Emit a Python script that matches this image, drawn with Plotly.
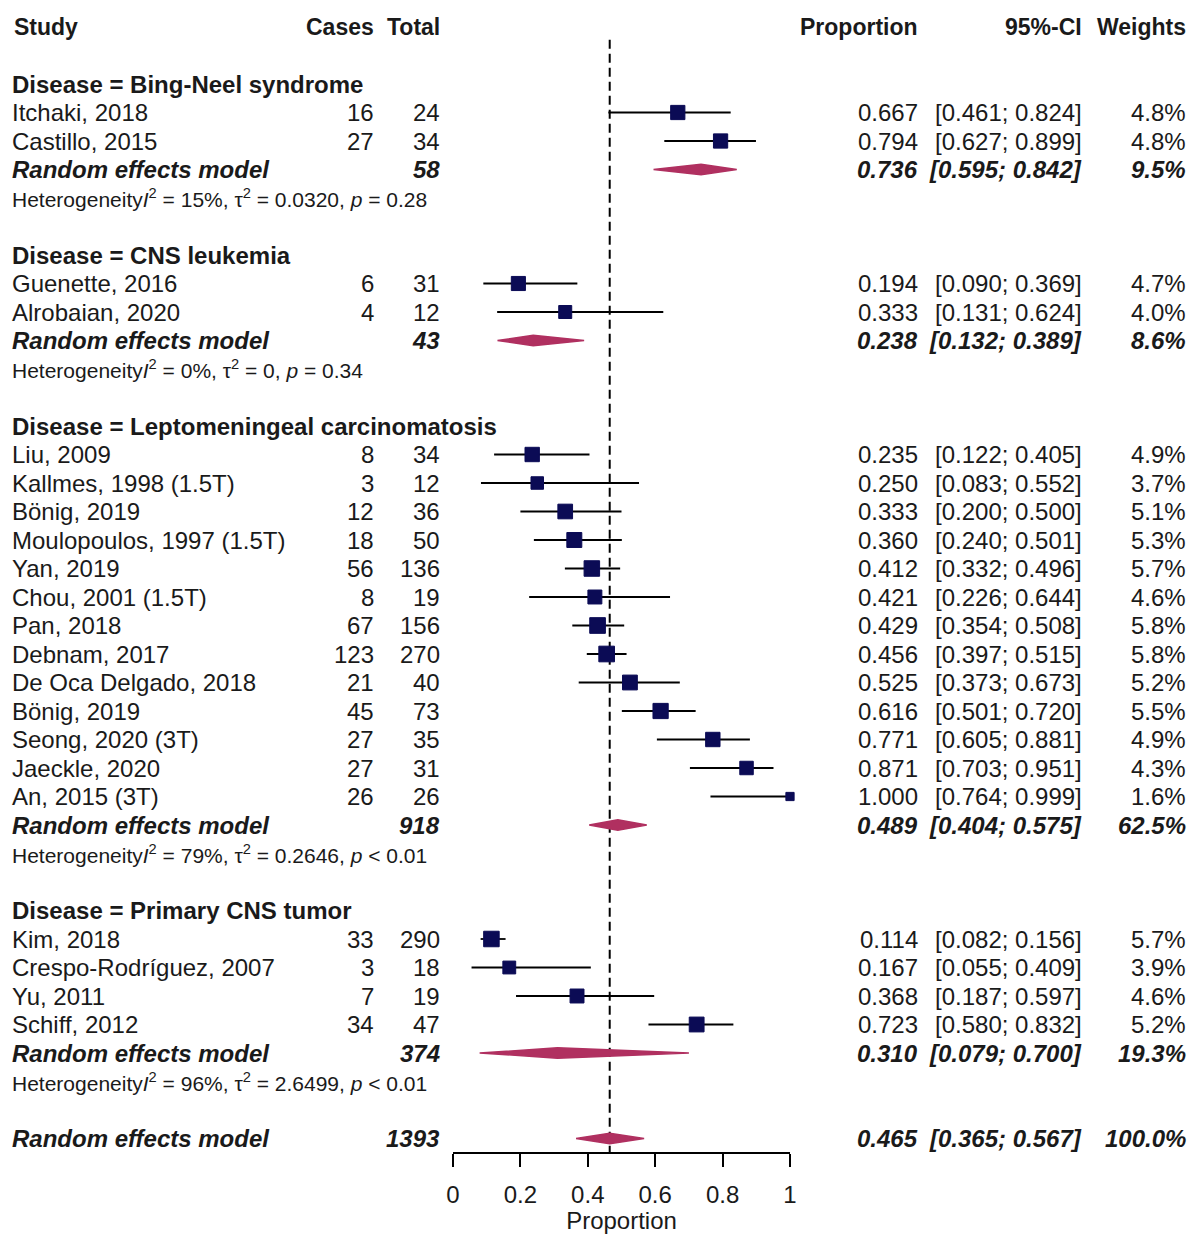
import plotly.graph_objects as go

# ---------------- data ----------------
disease = ["Bing-Neel syndrome", "CNS leukemia", "Leptomeningeal carcinomatosis", "Primary CNS tumor"]

studies = [
    ["Itchaki, 2018", "Castillo, 2015"],
    ["Guenette, 2016", "Alrobaian, 2020"],
    ["Liu, 2009", "Kallmes, 1998 (1.5T)", "Bönig, 2019", "Moulopoulos, 1997 (1.5T)", "Yan, 2019",
     "Chou, 2001 (1.5T)", "Pan, 2018", "Debnam, 2017", "De Oca Delgado, 2018", "Bönig, 2019",
     "Seong, 2020 (3T)", "Jaeckle, 2020", "An, 2015 (3T)"],
    ["Kim, 2018", "Crespo-Rodríguez, 2007", "Yu, 2011", "Schiff, 2012"],
]
cases = [[16, 27], [6, 4], [8, 3, 12, 18, 56, 8, 67, 123, 21, 45, 27, 27, 26], [33, 3, 7, 34]]
totals = [[24, 34], [31, 12], [34, 12, 36, 50, 136, 19, 156, 270, 40, 73, 35, 31, 26], [290, 18, 19, 47]]
prop = [[0.667, 0.794], [0.194, 0.333],
        [0.235, 0.250, 0.333, 0.360, 0.412, 0.421, 0.429, 0.456, 0.525, 0.616, 0.771, 0.871, 1.000],
        [0.114, 0.167, 0.368, 0.723]]
lower = [[0.461, 0.627], [0.090, 0.131],
         [0.122, 0.083, 0.200, 0.240, 0.332, 0.226, 0.354, 0.397, 0.373, 0.501, 0.605, 0.703, 0.764],
         [0.082, 0.055, 0.187, 0.580]]
upper = [[0.824, 0.899], [0.369, 0.624],
         [0.405, 0.552, 0.500, 0.501, 0.496, 0.644, 0.508, 0.515, 0.673, 0.720, 0.881, 0.951, 0.999],
         [0.156, 0.409, 0.597, 0.832]]
weights = [[4.8, 4.8], [4.7, 4.0],
           [4.9, 3.7, 5.1, 5.3, 5.7, 4.6, 5.8, 5.8, 5.2, 5.5, 4.9, 4.3, 1.6],
           [5.7, 3.9, 4.6, 5.2]]

sub_total = [58, 43, 918, 374]
sub_prop = [0.736, 0.238, 0.489, 0.310]
sub_lower = [0.595, 0.132, 0.404, 0.079]
sub_upper = [0.842, 0.389, 0.575, 0.700]
sub_weight = [9.5, 8.6, 62.5, 19.3]
sub_i2 = ["15%", "0%", "79%", "96%"]
sub_tau2 = ["0.0320", "0", "0.2646", "2.6499"]
sub_p = ["= 0.28", "= 0.34", "< 0.01", "< 0.01"]

overall_total = 1393
overall_prop = 0.465
overall_lower = 0.365
overall_upper = 0.567
overall_weight = 100.0
overall_i2, overall_tau2, overall_p = "90%", "0.7412", "< 0.01"

tick_vals = [0, 0.2, 0.4, 0.6, 0.8, 1]
tick_text = ["0", "0.2", "0.4", "0.6", "0.8", "1"]

# ---------------- layout constants ----------------
W, H = 1188, 1234
FONT = "Liberation Sans, Arial, sans-serif"
TXT = "#1a1a1a"
SQ_COL = "#0b0b55"
DIA_COL = "#b03060"
ROW0_PX, ROW_PX = 27.0, 28.5
AXIS_PX = 1152.0
PLOT_L, PLOT_R = 453.0, 790.0
COL_STUDY, COL_CASES, COL_TOTAL, COL_PROP, COL_CI, COL_W = 12, 374, 440, 918, 1082, 1186
FS, FS_HEAD, FS_HET = 24, 23, 21

y_bottom = (AXIS_PX - ROW0_PX) / ROW_PX
y_top = (0 - ROW0_PX) / ROW_PX

ann = []


def txt(px, row, s, anchor="left", size=FS):
    ann.append(dict(x=px / W, xref="paper", y=row, yref="y", text=s, showarrow=False,
                    xanchor=anchor, yanchor="middle", borderpad=0, borderwidth=0,
                    font=dict(family=FONT, size=size, color=TXT)))


def het(i2, tau2, p):
    return ("Heterogeneity<i>I</i><sup>2</sup> = %s, τ<sup>2</sup> = %s, <i>p</i> %s" % (i2, tau2, p))


# header
txt(COL_STUDY + 2, 0, "<b>Study</b>", size=FS_HEAD)
txt(COL_CASES, 0, "<b>Cases</b>", "right", size=FS_HEAD)
txt(COL_TOTAL, 0, "<b>Total</b>", "right", size=FS_HEAD)
txt(COL_PROP, 0, "<b>Proportion</b>", "right", size=FS_HEAD)
txt(COL_CI, 0, "<b>95%-CI</b>", "right", size=FS_HEAD)
txt(COL_W, 0, "<b>Weights</b>", "right", size=FS_HEAD)

ci_x, ci_y = [], []
sq_x, sq_y, sq_s = [], [], []
diamonds = []

row = 2
for g in range(len(disease)):
    txt(COL_STUDY, row, "<b>Disease = %s</b>" % disease[g])
    row += 1
    for k in range(len(studies[g])):
        txt(COL_STUDY, row, studies[g][k])
        txt(COL_CASES, row, str(cases[g][k]), "right")
        txt(COL_TOTAL, row, str(totals[g][k]), "right")
        txt(COL_PROP, row, "%.3f" % prop[g][k], "right")
        txt(COL_CI, row, "[%.3f; %.3f]" % (lower[g][k], upper[g][k]), "right")
        txt(COL_W, row, "%.1f%%" % weights[g][k], "right")
        ci_x += [lower[g][k], upper[g][k], None]
        ci_y += [row, row, None]
        sq_x.append(prop[g][k])
        sq_y.append(row)
        sq_s.append(6.5 * weights[g][k] ** 0.5)
        row += 1
    txt(COL_STUDY, row, "<b><i>Random effects model</i></b>")
    txt(COL_TOTAL, row, "<b><i>%d</i></b>" % sub_total[g], "right")
    txt(COL_PROP, row, "<b><i>%.3f</i></b>" % sub_prop[g], "right")
    txt(COL_CI, row, "<b><i>[%.3f; %.3f]</i></b>" % (sub_lower[g], sub_upper[g]), "right")
    txt(COL_W, row, "<b><i>%.1f%%</i></b>" % sub_weight[g], "right")
    diamonds.append((sub_lower[g], sub_prop[g], sub_upper[g], row))
    row += 1
    txt(COL_STUDY, row, het(sub_i2[g], sub_tau2[g], sub_p[g]), size=FS_HET)
    row += 2

txt(COL_STUDY, row, "<b><i>Random effects model</i></b>")
txt(COL_TOTAL, row, "<b><i>%d</i></b>" % overall_total, "right")
txt(COL_PROP, row, "<b><i>%.3f</i></b>" % overall_prop, "right")
txt(COL_CI, row, "<b><i>[%.3f; %.3f]</i></b>" % (overall_lower, overall_upper), "right")
txt(COL_W, row, "<b><i>%.1f%%</i></b>" % overall_weight, "right")
diamonds.append((overall_lower, overall_prop, overall_upper, row))
txt(COL_STUDY, row + 1, het(overall_i2, overall_tau2, overall_p), size=FS_HET)

fig = go.Figure()

# CI lines
fig.add_trace(go.Scatter(x=ci_x, y=ci_y, mode="lines", line=dict(color="black", width=1.8),
                         hoverinfo="skip", showlegend=False, cliponaxis=False))
# squares
fig.add_trace(go.Scatter(x=sq_x, y=sq_y, mode="markers",
                         marker=dict(symbol="square", size=sq_s, color=SQ_COL, opacity=1,
                                     line=dict(color=SQ_COL, width=1)),
                         showlegend=False, cliponaxis=False))
# diamonds
hh = 0.18
for lo, est, hi, r in diamonds:
    fig.add_trace(go.Scatter(x=[lo, est, hi, est, lo], y=[r, r - hh, r, r + hh, r],
                             mode="lines", fill="toself", fillcolor=DIA_COL,
                             line=dict(color=DIA_COL, width=1.5), showlegend=False,
                             hoverinfo="skip"))

# dashed reference line at overall estimate
fig.add_shape(type="line", xref="x", yref="y", x0=overall_prop, x1=overall_prop,
              y0=0.45, y1=y_bottom, line=dict(color="black", width=2, dash="9px,5px"), layer="below")

fig.update_layout(
    width=W, height=H, autosize=False,
    margin=dict(l=0, r=0, t=0, b=H - AXIS_PX, autoexpand=False),
    plot_bgcolor="white", paper_bgcolor="white",
    annotations=ann,
    xaxis=dict(domain=[PLOT_L / W, PLOT_R / W], range=[0, 1], showgrid=False, zeroline=False,
               showline=True, linecolor="black", linewidth=2, ticks="outside", ticklen=13,
               tickwidth=2, tickcolor="black", tickvals=tick_vals, ticktext=tick_text,
               tickfont=dict(family=FONT, size=24, color=TXT), ticklabelstandoff=7,
               title=dict(text="Proportion", font=dict(family=FONT, size=24, color=TXT), standoff=6)),
    yaxis=dict(range=[y_bottom, y_top], visible=False, showgrid=False, zeroline=False),
    showlegend=False,
)

fig.write_html("out.html", config={"displayModeBar": False, "responsive": False},
               post_script="document.body.style.margin='0';document.body.style.overflow='hidden';"
                           "document.documentElement.style.overflow='hidden';")
